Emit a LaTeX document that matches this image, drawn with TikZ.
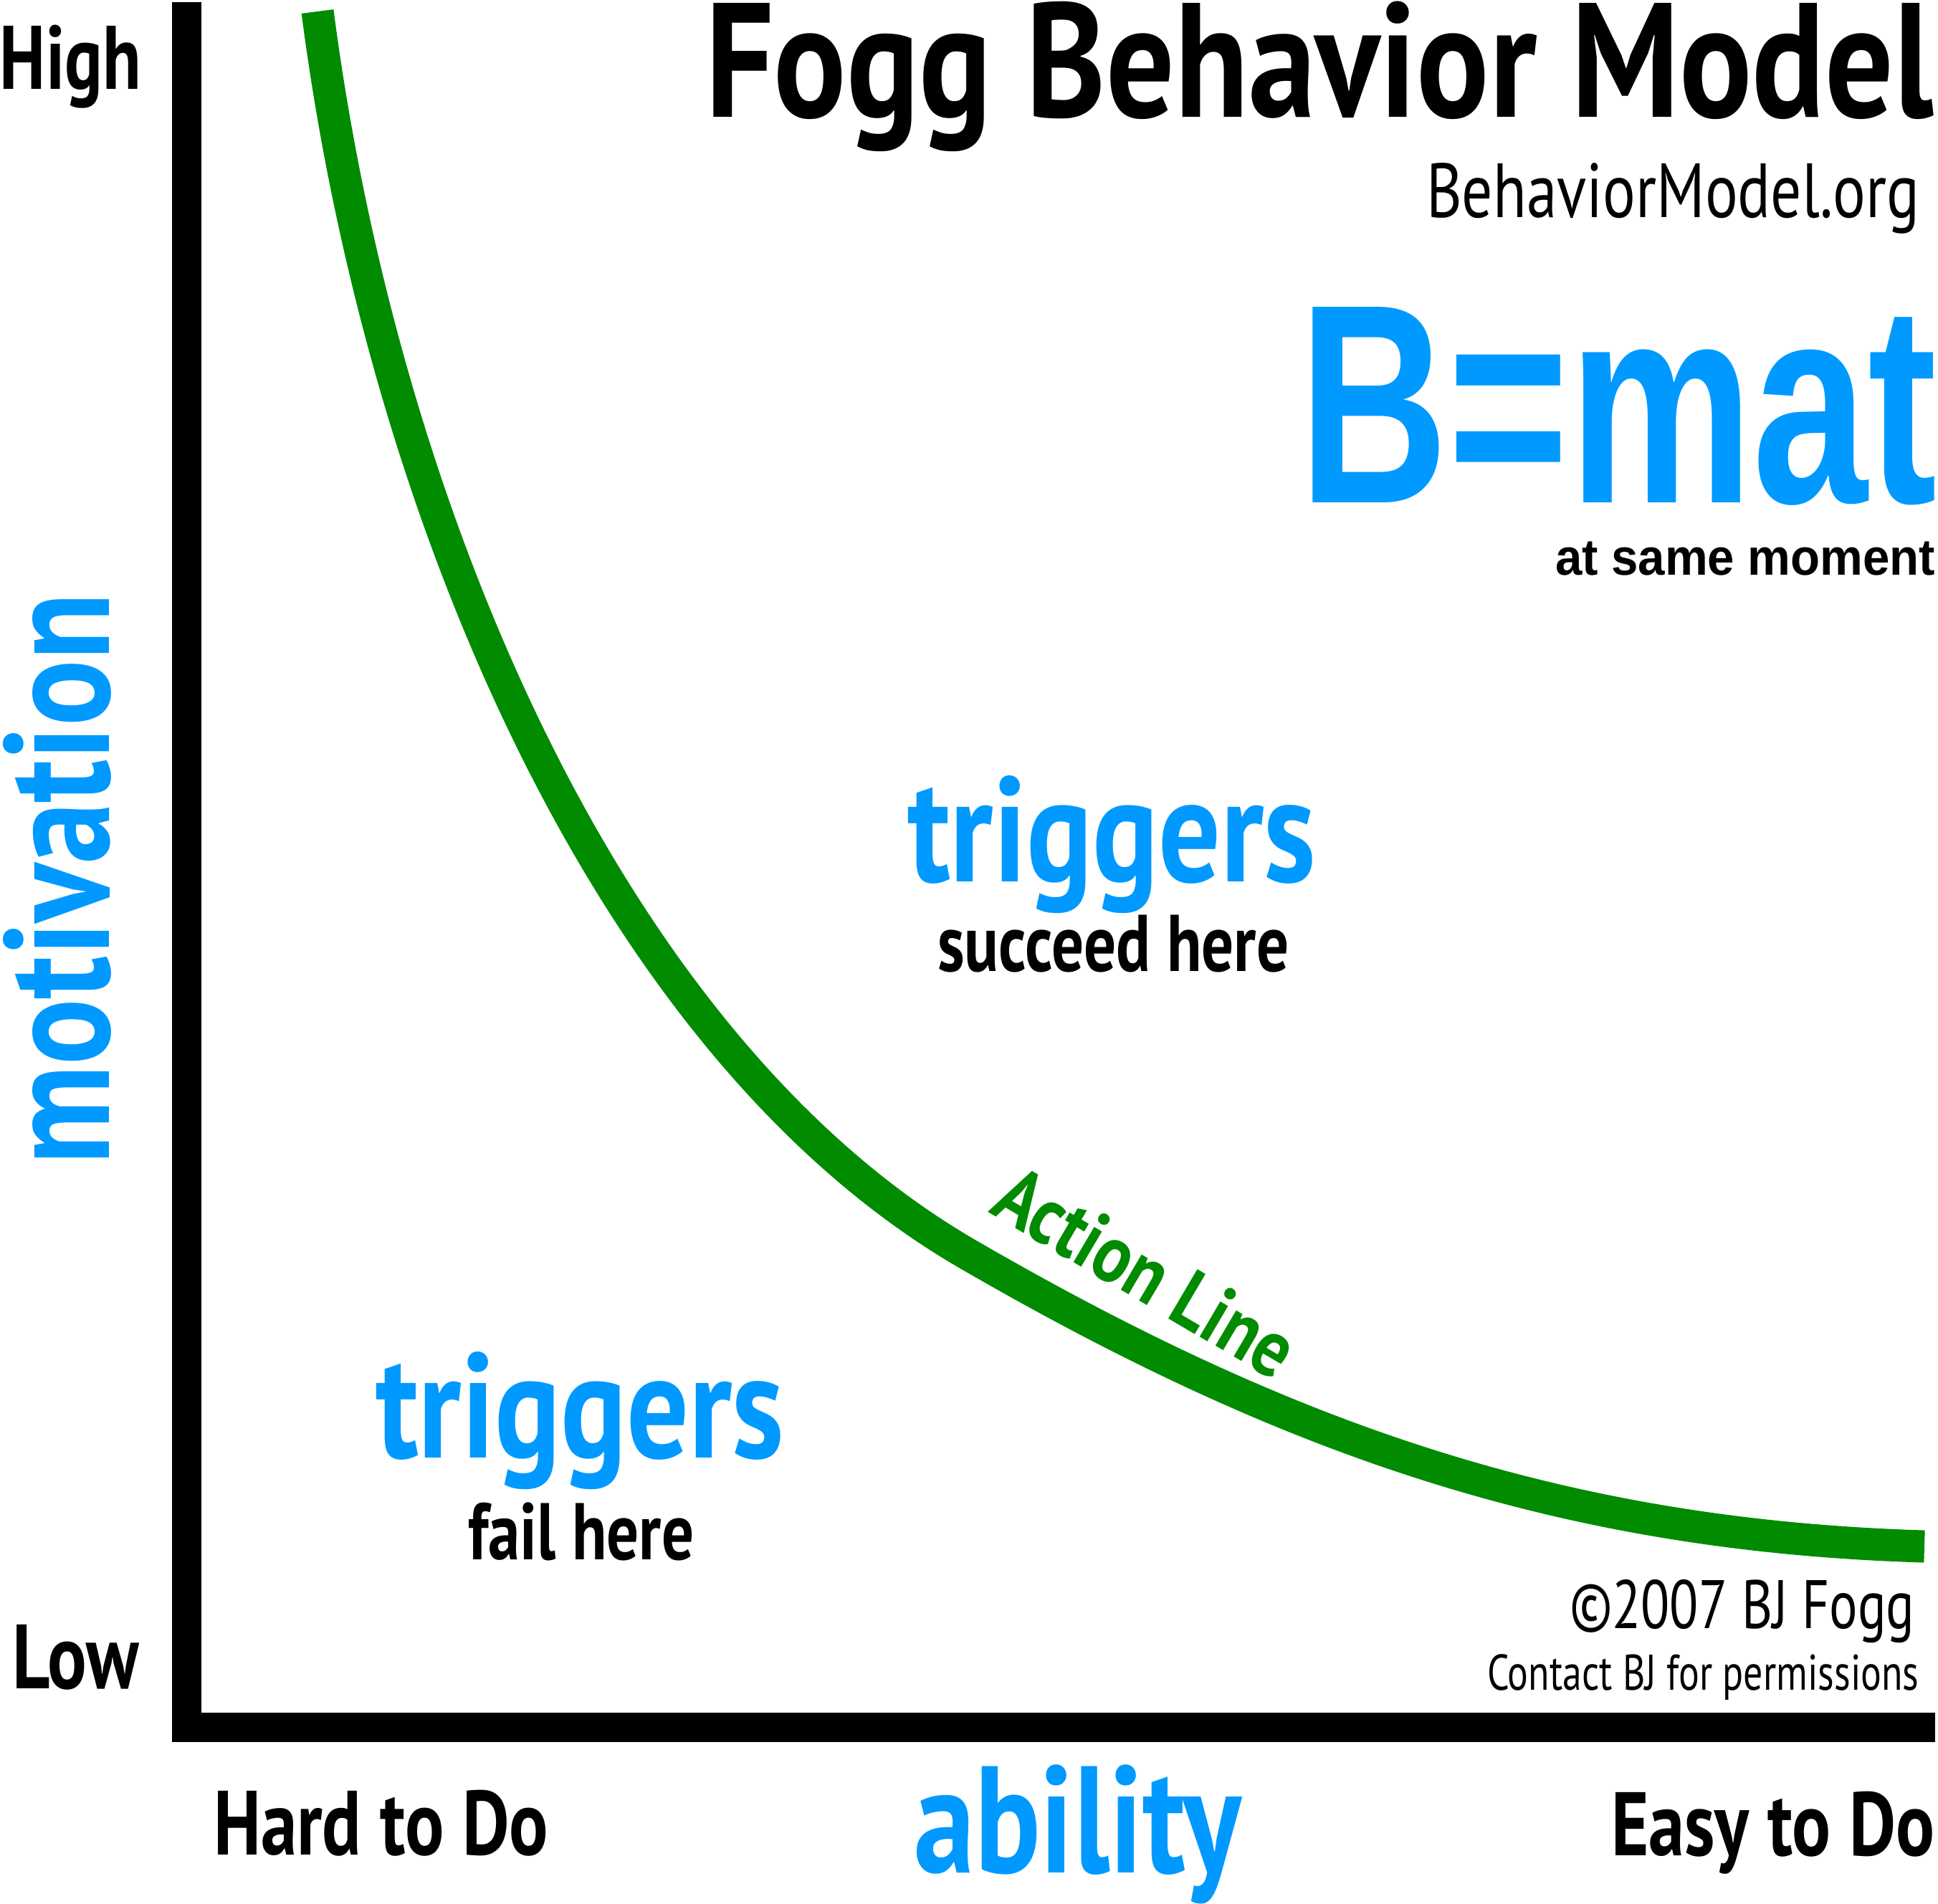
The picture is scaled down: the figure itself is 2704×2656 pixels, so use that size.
\documentclass[tikz,border=0pt]{standalone}
\usepackage{fontspec}
\usepackage{graphicx}
\newfontfamily\ptsans{PT Sans}
\newfontfamily\helv{Liberation Sans}
\definecolor{fbmblue}{RGB}{0,153,255}
\definecolor{fbmgreen}{RGB}{0,139,0}
\newcommand\fitw[2]{\resizebox{#1}{\height}{#2}}
\newcommand\fsz[1]{\fontsize{#1}{#1}\selectfont}

\begin{document}
\begin{tikzpicture}[x=0.01cm,y=-0.01cm,
  every node/.style={inner sep=0pt,outer sep=0pt,anchor=base west},
  bold/.style={font=\ptsans\bfseries},
  thin/.style={font=\ptsans},
  key/.style={bold,fbmblue}]
\useasboundingbox (0,0) rectangle (2704,2656);

% axes and action line
\draw[line width=0.41cm] (260.5,3) |- (2700,2410.5);
\draw[fbmgreen,line width=0.45cm] (443,16) .. controls (534,716) and (850,1460) .. (1350,1750)
  .. controls (1800,2011) and (2185,2143) .. (2685,2158);

\node[bold] (title) at (984,163) {\fitw{17.13cm}{\fsz{64.6}Fogg Behavior Model}};
\node[thin] (site) at (1990,303) {\fitw{6.88cm}{\fsz{30.5}BehaviorModel.org}};
\node[fbmblue,font=\helv\bfseries] (bmat) at (1812,701) {\fitw{8.90cm}{\fsz{112.8}B=mat}};
\node[font=\helv\bfseries] (moment) at (2170,802) {\fitw{5.30cm}{\fsz{20.3}at same moment}};

\node[bold] (high) at (0,124) {\fitw{1.97cm}{\fsz{35.8}High}};
\node[bold] (low) at (18,2356) {\fitw{1.76cm}{\fsz{36.2}Low}};
\node[bold] (hard) at (298,2588) {\fitw{4.67cm}{\fsz{36.2}Hard to Do}};
\node[bold] (easy) at (2248,2589) {\fitw{4.51cm}{\fsz{35.8}Easy to Do}};
\node[key] (ability) at (1275,2613) {\fitw{4.57cm}{\fsz{60.3}ability}};
\node[key,rotate=90] (motivation) at (152,1625) {\fitw{7.97cm}{\fsz{59.2}motivation}};

\node[key] (trighigh) at (1266,1230) {\fitw{5.70cm}{\fsz{59.2}triggers}};
\node[bold] (succeed) at (1308,1355) {\fitw{4.90cm}{\fsz{31.9}succeed here}};
\node[key] (triglow) at (524,2034) {\fitw{5.70cm}{\fsz{59.2}triggers}};
\node[bold] (fail) at (653,2176) {\fitw{3.15cm}{\fsz{31.9}fail here}};
\node[bold,fbmgreen,rotate=-30.5] (action) at (1378,1691) {\fitw{4.65cm}{\fsz{32.5}Action Line}};

\node[thin] (copy) at (2190,2272) {\fitw{4.81cm}{\fsz{27.2}\textcopyright2007 BJ Fogg}};
\node[thin] (contact) at (2075,2358) {\fitw{6.02cm}{\fsz{19.9}Contact BJ for permissions}};
\end{tikzpicture}
\end{document}
